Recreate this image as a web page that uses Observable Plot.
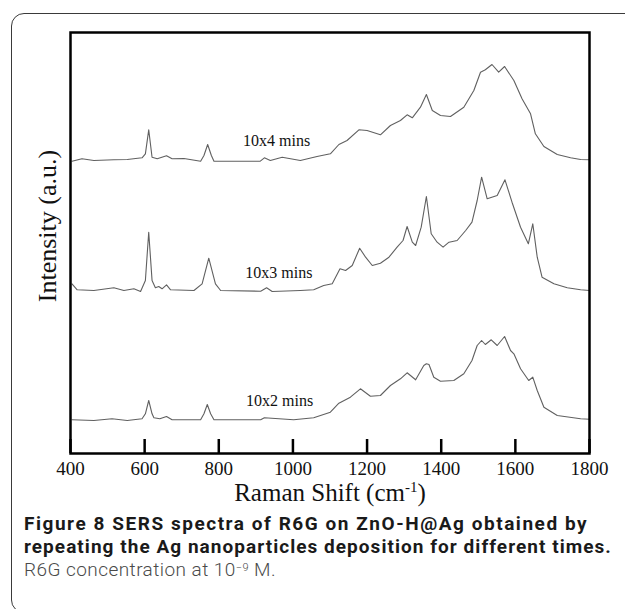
<!DOCTYPE html>
<html>
<head>
<meta charset="utf-8">
<script src="https://cdn.jsdelivr.net/npm/d3@7"></script>
<script src="https://cdn.jsdelivr.net/npm/@observablehq/plot@0.6"></script>
<style>
  html, body { margin: 0; padding: 0; background: #fff; }
  body { width: 625px; height: 609px; overflow: hidden; position: relative; }
  #box { position: absolute; left: 11px; top: 13px; width: 700px; height: 600px;
         border: 1.5px solid #3a3a3a; border-radius: 13px 0 0 13px; box-sizing: border-box; }
  #chart { position: absolute; left: 0; top: 0; }
  #cap { position: absolute; left: 24px; top: 512px; font-family: Roboto, sans-serif;
         font-size: 19px; line-height: 23px; color: #1a1a1a; white-space: nowrap; }
  #cap b { font-weight: 700; }
  #cap .sub { color: #4a4a4a; font-weight: 300; }
  #cap sup { font-size: 11px; line-height: 0; vertical-align: 5px; }
</style>
</head>
<body>
<div id="box"></div>
<div id="chart"></div>
<div id="cap"></div>
<script>
// ---- data (arbitrary intensity units, stacked as drawn) ----
const shift10x4 = [404,431,463,517,553,593,602,611,620,634,659,674,706,751,760,770,780,787,912,923,939,971,1020,1065,1101,1124,1146,1178,1200,1236,1263,1290,1308,1322,1344,1360,1376,1398,1425,1461,1488,1506,1519,1537,1555,1571,1596,1618,1641,1654,1677,1713,1749,1776,1800];
const int10x4   = [292.3,294.7,293,293.7,294,295.7,299.7,323.7,296.3,294.7,297.7,294.7,295,292.3,298,309,298,292.3,292.3,295.7,293,296.3,293,297,299.7,309,313,323.7,323,318.7,328,333,338.7,335.7,346.3,359,343,338,337,346.3,363,381.3,383.7,389,381.3,387,373,354.7,339.7,319.7,307,299,295.7,294,293.7];

const shift10x3 = [404,418,463,517,544,571,589,602,611,620,629,638,647,659,670,733,755,773,791,805,913,929,944,1020,1056,1083,1106,1127,1142,1160,1180,1196,1214,1236,1259,1281,1297,1308,1322,1331,1346,1360,1373,1389,1405,1421,1443,1466,1483,1497,1509,1524,1551,1572,1591,1614,1635,1647,1659,1672,1704,1740,1776,1800];
const int10x3   = [169.7,163.7,163,165.7,163,164.7,162,173,221.3,173,165.7,167,164.7,168.7,163.7,163,169.7,195.3,169.7,163,162.3,165.7,162,163,163.7,168,169.7,184.7,183,188,205.3,196.3,188,190.3,196.3,206.3,213,227,211.3,208,226.3,257,219.7,211.3,206.3,211.3,213,223,231.3,253,276.3,254.7,258,273.7,251.3,226.3,209.7,229.7,196.3,176.3,169.7,165.7,163.7,163];

const shift10x2 = [404,463,512,553,593,602,611,620,625,641,659,674,751,760,769,778,787,913,923,1002,1056,1101,1124,1155,1182,1209,1236,1263,1290,1308,1331,1353,1360,1367,1380,1398,1434,1461,1483,1497,1509,1519,1535,1551,1571,1587,1596,1614,1636,1647,1659,1677,1713,1776,1800];
const int10x2   = [33.7,33,34.7,33,34.7,39.7,53,39.7,35.7,34.7,37,33.7,33.7,39.7,49,39.7,33.7,33.7,35.7,33.7,35.7,41.3,50.3,56.3,64.7,57.3,58,68,74.7,80.7,73.7,88,89.7,89,76.3,72.3,73,79.7,93,108,113,109,113.7,108,117,103,99.7,84.7,73,76.3,63,46.3,38,34.7,34.3];

const seriesNames  = ["10x4 mins", "10x3 mins", "10x2 mins"];
const labelShift   = [956, 962, 964];
const labelInt     = [313, 181, 53];
const xTicks       = [400, 600, 800, 1000, 1200, 1400, 1600, 1800];
const xDomain      = [400, 1800];
const yDomain      = [0, 421];
const xTitle       = "Raman Shift (cm-1)";
const yTitle       = "Intensity (a.u.)";
const captionBold  = ["Figure 8 SERS spectra of R6G on ZnO-H@Ag obtained by",
                      "repeating the Ag nanoparticles deposition for different times."];
const captionPlain = ["R6G concentration at 10", "\u22129", " M."];
const captionWidth = [564, 588, 252];   // measured line widths in the reference

// ---- build table ----
const pairs = [[shift10x4, int10x4], [shift10x3, int10x3], [shift10x2, int10x2]];
const spectra = pairs.flatMap(([xs, ys], k) => xs.map((x, i) => ({series: seriesNames[k], shift: x, intensity: ys[i]})));
const labels = seriesNames.map((s, k) => ({text: s, shift: labelShift[k], intensity: labelInt[k]}));

const W = 625, H = 515, mT = 32, mB = 62, mL = 70, mR = 36;
const serif = "Liberation Serif, Times New Roman, serif";

const plot = Plot.plot({
  width: W, height: H,
  marginTop: mT, marginBottom: mB, marginLeft: mL, marginRight: mR,
  style: {fontFamily: serif, background: "transparent", color: "#000"},
  x: {domain: xDomain},
  y: {domain: yDomain, axis: null},
  marks: [
    Plot.line(spectra, {x: "shift", y: "intensity", z: "series", stroke: "#606060", strokeWidth: 1.1}),
    Plot.text(labels, {x: "shift", y: "intensity", text: "text", fontSize: 16, fontFamily: serif, fill: "#111"}),
    Plot.tickX(xTicks, {x: d => d, insetTop: (H - mT - mB) - 14, stroke: "#000", strokeWidth: 2.5}),
    Plot.axisX(xTicks, {tickSize: 0, tickPadding: 8, fontSize: 19, fontFamily: serif, label: null, fill: "#111", tickFormat: d => String(d)}),
    Plot.text([xTitle], {frameAnchor: "bottom", dy: 47, fontSize: 25, fontFamily: serif, fill: "#111"}),
    Plot.text([yTitle], {frameAnchor: "left", textAnchor: "middle", rotate: -90, dx: -23, dy: -17, fontSize: 26, fontFamily: serif, fill: "#111"}),
    Plot.frame({stroke: "#000", strokeWidth: 2.5})
  ]
});

// superscript for cm-1
const tNode = [...plot.querySelectorAll("text")].find(n => n.textContent === xTitle);
if (tNode) {
  const ns = "http://www.w3.org/2000/svg";
  tNode.textContent = "";
  const a = document.createElementNS(ns, "tspan"); a.textContent = "Raman Shift (cm";
  const b = document.createElementNS(ns, "tspan"); b.textContent = "-1"; b.setAttribute("font-size", "15"); b.setAttribute("dy", "-9");
  const c = document.createElementNS(ns, "tspan"); c.textContent = ")"; c.setAttribute("dy", "9");
  tNode.append(a, b, c);
}
document.getElementById("chart").append(plot);

const cap = document.getElementById("cap");
cap.innerHTML = `<b>${captionBold[0]}</b><br><b>${captionBold[1]}</b>` +
  `<br><span class="sub">${captionPlain[0]}<sup>${captionPlain[1]}</sup>${captionPlain[2]}</span>`;
// spread each caption line to the width it has in the reference
const parts = [...cap.querySelectorAll("b, span.sub")];
parts.forEach((el, k) => {
  const w = el.getBoundingClientRect().width;
  const n = el.textContent.length;
  el.style.letterSpacing = ((captionWidth[k] - w) / n).toFixed(2) + "px";
});
</script>
</body>
</html>
